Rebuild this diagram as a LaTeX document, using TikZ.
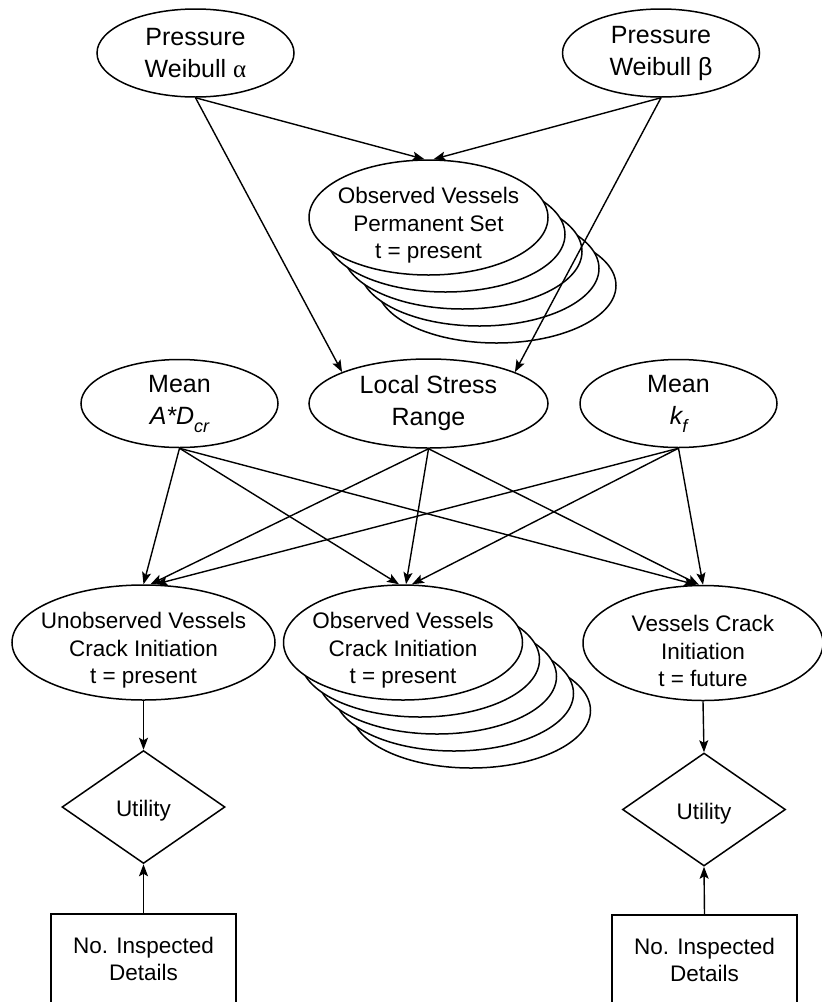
\documentclass[tikz,border=0pt]{standalone}
\usepackage{fontspec}
\setmainfont{Liberation Sans}
\newfontfamily\greekserif{Liberation Serif}
\usetikzlibrary{shapes.geometric,arrows.meta}

\newcommand{\sub}[1]{\raisebox{-8pt}{\fontsize{18}{18}\selectfont\itshape #1}}

\begin{document}
\begin{tikzpicture}[x=1pt,y=-1pt,
  big/.style={font=\fontsize{25}{32}\selectfont},
  small/.style={font=\fontsize{22.5}{27.5}\selectfont},
  ell/.style={ellipse,draw,line width=1.5pt,fill=white,align=center,
              inner xsep=-200pt,inner ysep=-100pt},
  twoline/.style={ell,big,minimum width=197pt,minimum height=88pt},
  wide/.style={ell,minimum width=239pt,minimum height=89pt},
  stackell/.style={ell,minimum width=239pt,minimum height=115pt},
  inner/.style={label={[small,align=center,yshift=-8pt]center:#1}},
  utilbox/.style={diamond,draw,line width=1.5pt,inner sep=0pt,
                  minimum width=163pt,minimum height=113pt,
                  label={[small,yshift=-4pt]center:Utility}},
  decbox/.style={rectangle,draw,line width=1.5pt,small,align=center,
                 minimum width=185pt,minimum height=90pt,inner sep=0pt},
  arr/.style={line width=1.4pt,-{Stealth[length=12pt,width=9pt,inset=2.5pt]}}
]
\useasboundingbox (0,0) rectangle (822,1002);
\clip (0,0) rectangle (822,1002);

% top parents
\node[twoline] (alpha) at (195.5,53) {Pressure\\Weibull {\greekserif α}};
\node[twoline] (beta)  at (661,53)  {Pressure\\Weibull β};

% permanent set plate: copies behind the front ellipse
\foreach \k in {4,3,2,1}
  \node[stackell] (psback\k) at (428.5+17*\k,217.5+17*\k) {};
\node[stackell,inner={Observed Vessels\\Permanent Set\\t = present}] (ps) at (428.5,217.5) {};

% middle row
\node[twoline] (ad)  at (179.5,403.5) {Mean\\{\itshape A*D}\sub{cr}};
\node[wide,big] (lsr) at (428.5,403.5) {Local Stress\\Range};
\node[twoline] (kf)  at (678.5,403.5) {Mean\\{\itshape k}\sub{f}};

% crack initiation row
\node[ell,minimum width=263pt,minimum height=115pt,
      inner={Unobserved Vessels\\Crack Initiation\\t = present}] (un) at (143.5,642.5) {};
\foreach \k in {4,3,2,1}
  \node[stackell] (ocback\k) at (403+17*\k,642.5+17*\k) {};
\node[stackell,inner={Observed Vessels\\Crack Initiation\\t = present}] (oc) at (403,642.5) {};
\node[ell,minimum width=240pt,minimum height=115pt,
      inner={Vessels Crack\\Initiation\\t = future}] (vc) at (703,643) {};

% utilities and decisions
\node[utilbox] (ul) at (143.5,807) {};
\node[utilbox] (ur) at (704,809.5) {};
\node[decbox] (dl) at (143.5,959) {No. Inspected\\Details};
\node[decbox] (dr) at (704.5,960) {No. Inspected\\Details};

% arcs from the pressure parameters
\draw[arr] (alpha.south) -- ([xshift=-4pt]ps.north);
\draw[arr] (beta.south)  -- ([xshift=5pt]ps.north);
\draw[arr] (alpha.south) -- (lsr.160);
\draw[arr] (beta.south)  -- (lsr.20);

% arcs into the crack initiation nodes
\draw[arr] (ad.south)  -- (un.north);
\draw[arr] (lsr.south) -- ([xshift=7pt]un.north);
\draw[arr] (kf.south)  -- ([xshift=12pt]un.north);
\draw[arr] (ad.south)  -- ([xshift=-4pt]oc.north);
\draw[arr] (lsr.south) -- ([xshift=3pt]oc.north);
\draw[arr] (kf.south)  -- ([xshift=9pt]oc.north);
\draw[arr] (ad.south)  -- ([xshift=-7pt]vc.north);
\draw[arr] (lsr.south) -- ([xshift=-4pt]vc.north);
\draw[arr] (kf.south)  -- (vc.north);

% utility arcs
\draw[arr] (un.south) -- (ul.north);
\draw[arr] (vc.south) -- (ur.north);
\draw[arr] (dl.north) -- (ul.south);
\draw[arr] (dr.north) -- (ur.south);
\end{tikzpicture}
\end{document}
